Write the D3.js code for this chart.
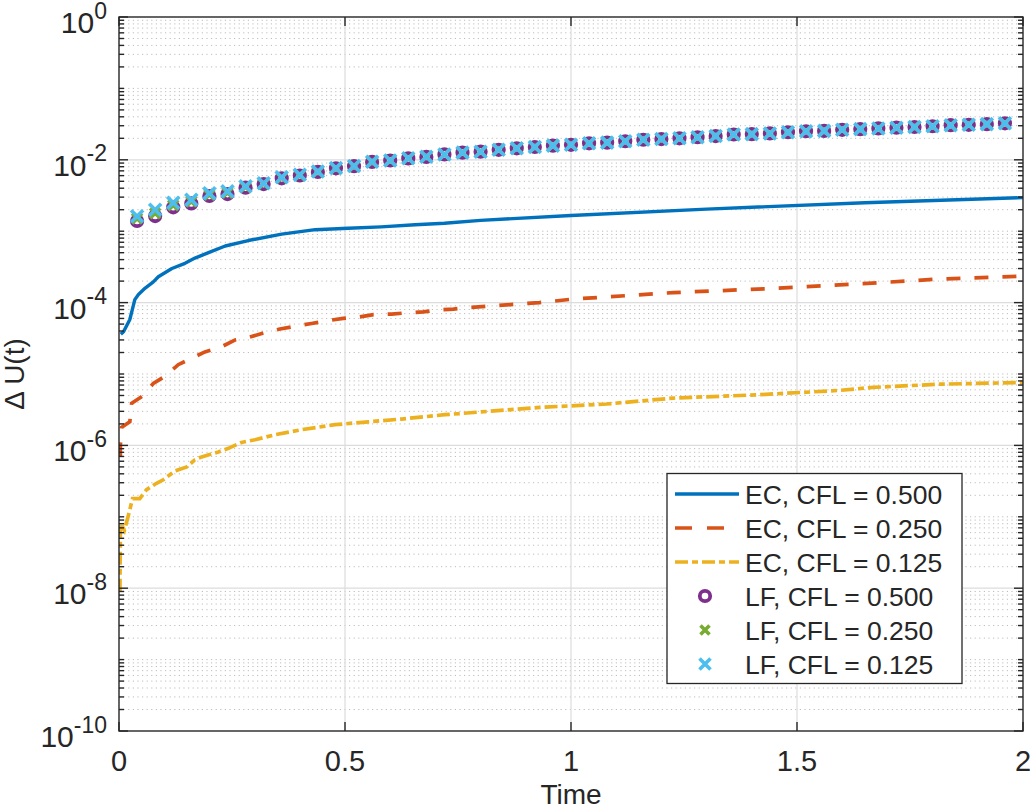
<!DOCTYPE html>
<html><head><meta charset="utf-8">
<script src="https://cdn.jsdelivr.net/npm/d3@7"></script>
<style>
body{margin:0;background:#fff}
text{font-family:"Liberation Sans",Arial,Helvetica,sans-serif;fill:#262626}
</style>
</head><body>
<svg id="c" width="1030" height="809"></svg>
<script>
// ---------- data ----------
const ec050T = [0.004,0.010,0.024,0.035,0.043,0.058,0.076,0.087,0.117,0.146,0.168,0.198,0.235,0.286,0.360,0.434,0.507,0.580,0.655,0.720,0.800,1.000,1.300,1.650,2.000];
const ec050V = [3.6e-5,3.9e-5,5.8e-5,1.1e-4,1.3e-4,1.6e-4,1.95e-4,2.3e-4,3.0e-4,3.55e-4,4.2e-4,5.0e-4,6.2e-4,7.4e-4,9.1e-4,1.05e-3,1.1e-3,1.15e-3,1.23e-3,1.29e-3,1.42e-3,1.66e-3,2.04e-3,2.5e-3,2.95e-3];

const ec025T = [0.003,0.003,0.006,0.024,0.028,0.054,0.076,0.102,0.131,0.157,0.190,0.223,0.257,0.286,0.323,0.356,0.393,0.426,0.463,0.496,0.533,0.563,0.603,0.637,0.673,0.706,0.740,0.770,0.930,1.005,1.226,1.448,1.632,1.816,2.000];
const ec025V = [7.0e-7,1.0e-6,1.8e-6,2.15e-6,3.9e-6,5.0e-6,7.4e-6,9.3e-6,1.35e-5,1.62e-5,2.04e-5,2.34e-5,3.0e-5,3.24e-5,3.8e-5,4.27e-5,4.7e-5,5.1e-5,5.6e-5,6.0e-5,6.3e-5,6.8e-5,6.9e-5,7.2e-5,7.4e-5,7.9e-5,8.1e-5,8.5e-5,1.0e-4,1.12e-4,1.38e-4,1.58e-4,1.82e-4,2.14e-4,2.34e-4];

const ec0125T = [0.002,0.003,0.004,0.012,0.020,0.030,0.046,0.061,0.083,0.098,0.124,0.150,0.168,0.183,0.220,0.242,0.271,0.301,0.345,0.404,0.478,0.552,0.625,0.721,0.930,1.079,1.226,1.410,1.595,1.668,1.816,2.000];
const ec0125V = [8.9e-9,6.0e-8,8.1e-8,6.5e-8,1.0e-7,1.8e-7,1.8e-7,2.4e-7,2.95e-7,3.3e-7,4.4e-7,5.0e-7,6.3e-7,6.9e-7,8.1e-7,9.1e-7,1.1e-6,1.2e-6,1.41e-6,1.66e-6,1.95e-6,2.14e-6,2.34e-6,2.69e-6,3.4e-6,3.8e-6,4.6e-6,5.1e-6,5.9e-6,6.5e-6,7.2e-6,7.6e-6];

const lfT = [0.04,0.08,0.12,0.16,0.20,0.24,0.28,0.32,0.36,0.40,0.44,0.48,0.52,0.56,0.60,0.64,0.68,0.72,0.76,0.80,0.84,0.88,0.92,0.96,1.00,1.04,1.08,1.12,1.16,1.20,1.24,1.28,1.32,1.36,1.40,1.44,1.48,1.52,1.56,1.60,1.64,1.68,1.72,1.76,1.80,1.84,1.88,1.92,1.96];
const lf050V = [1.39e-3,1.63e-3,2.16e-3,2.45e-3,3.11e-3,3.31e-3,4.07e-3,4.57e-3,5.50e-3,6.03e-3,6.76e-3,7.59e-3,8.13e-3,9.33e-3,9.77e-3,1.047e-2,1.096e-2,1.19e-2,1.26e-2,1.30e-2,1.38e-2,1.45e-2,1.51e-2,1.58e-2,1.62e-2,1.70e-2,1.74e-2,1.82e-2,1.91e-2,1.95e-2,2.00e-2,2.07e-2,2.15e-2,2.26e-2,2.29e-2,2.34e-2,2.43e-2,2.51e-2,2.54e-2,2.63e-2,2.69e-2,2.75e-2,2.82e-2,2.88e-2,2.95e-2,3.05e-2,3.09e-2,3.16e-2,3.24e-2];
const lf025V = [1.51e-3,1.78e-3,2.32e-3,2.60e-3,3.24e-3,3.47e-3,4.17e-3,4.62e-3,5.62e-3,6.10e-3,6.80e-3,7.62e-3,8.15e-3,9.35e-3,9.80e-3,1.05e-2,1.10e-2,1.19e-2,1.26e-2,1.30e-2,1.38e-2,1.45e-2,1.51e-2,1.58e-2,1.62e-2,1.70e-2,1.74e-2,1.82e-2,1.91e-2,1.95e-2,2.00e-2,2.07e-2,2.15e-2,2.26e-2,2.29e-2,2.34e-2,2.43e-2,2.51e-2,2.54e-2,2.63e-2,2.69e-2,2.75e-2,2.82e-2,2.88e-2,2.95e-2,3.05e-2,3.09e-2,3.16e-2,3.24e-2];
const lf0125V = [1.62e-3,2.00e-3,2.51e-3,2.75e-3,3.39e-3,3.63e-3,4.27e-3,4.68e-3,5.69e-3,6.17e-3,6.84e-3,7.67e-3,8.20e-3,9.40e-3,9.80e-3,1.05e-2,1.10e-2,1.19e-2,1.26e-2,1.30e-2,1.38e-2,1.45e-2,1.51e-2,1.58e-2,1.62e-2,1.70e-2,1.74e-2,1.82e-2,1.91e-2,1.95e-2,2.00e-2,2.07e-2,2.15e-2,2.26e-2,2.29e-2,2.34e-2,2.43e-2,2.51e-2,2.54e-2,2.63e-2,2.69e-2,2.75e-2,2.82e-2,2.88e-2,2.95e-2,3.05e-2,3.09e-2,3.16e-2,3.24e-2];

const xTicks = [0,0.5,1,1.5,2];
const xTickLabels = ["0","0.5","1","1.5","2"];
const yTickExps = [0,-2,-4,-6,-8,-10];
const legendLabels = ["EC, CFL = 0.500","EC, CFL = 0.250","EC, CFL = 0.125","LF, CFL = 0.500","LF, CFL = 0.250","LF, CFL = 0.125"];
const xLabel = "Time";
const yLabel = "\u0394 U(t)";

// ---------- layout ----------
const L = 119, R = 1023, T = 17, B = 731;
const C = {blue:"#0072BD", red:"#D95319", yellow:"#EDB120", purple:"#7E2F8E", green:"#77AC30", cyan:"#4DBEEE", axis:"#262626"};

const svg = d3.select("#c");
const x = d3.scaleLinear().domain([0,2]).range([L,R]);
const y = d3.scaleLog().domain([1e-10,1]).range([B,T]);

// grid
const minorY = [];
for (let e=-10; e<0; e++) {
  for (let m=2; m<=9; m++) minorY.push(m*Math.pow(10,e));
  if (e % 2 !== 0) minorY.push(Math.pow(10,e));
}
const g = svg.append("g");
g.selectAll(".mg").data(minorY).enter().append("line")
  .attr("x1",L).attr("x2",R).attr("y1",d=>y(d)).attr("y2",d=>y(d))
  .attr("stroke","#bdbdbd").attr("stroke-width",1).attr("stroke-dasharray","1.2,3.4");
g.selectAll(".gy").data(yTickExps.slice(1,-1)).enter().append("line")
  .attr("x1",L).attr("x2",R).attr("y1",d=>y(Math.pow(10,d))).attr("y2",d=>y(Math.pow(10,d)))
  .attr("stroke","#dcdcdc").attr("stroke-width",1.2);
g.selectAll(".gx").data(xTicks.slice(1,-1)).enter().append("line")
  .attr("y1",T).attr("y2",B).attr("x1",d=>x(d)).attr("x2",d=>x(d))
  .attr("stroke","#dcdcdc").attr("stroke-width",1.2);

// clip
svg.append("clipPath").attr("id","clip").append("rect").attr("x",L).attr("y",T).attr("width",R-L).attr("height",B-T);
const plot = svg.append("g").attr("clip-path","url(#clip)");

const line = d3.line().x(d=>x(d[0])).y(d=>y(d[1]));
const zip = (a,b)=>a.map((v,i)=>[v,b[i]]);

plot.append("path").attr("d",line(zip(ec050T,ec050V))).attr("fill","none").attr("stroke",C.blue).attr("stroke-width",3.4).attr("stroke-linejoin","round");
plot.append("path").attr("d",line(zip(ec025T,ec025V))).attr("fill","none").attr("stroke",C.red).attr("stroke-width",3.7).attr("stroke-dasharray","14,14");
plot.append("path").attr("d",line(zip(ec0125T,ec0125V))).attr("fill","none").attr("stroke",C.yellow).attr("stroke-width",3.7).attr("stroke-dasharray","13,4,6,4");

const crossPath = h => `M${-h},${-h}L${h},${h}M${-h},${h}L${h},${-h}`;
plot.selectAll(".c1").data(zip(lfT,lf050V)).enter().append("circle")
  .attr("cx",d=>x(d[0])).attr("cy",d=>y(d[1])).attr("r",5.2).attr("fill","none").attr("stroke",C.purple).attr("stroke-width",3.8);
plot.selectAll(".c2").data(zip(lfT,lf025V)).enter().append("path")
  .attr("transform",d=>`translate(${x(d[0])},${y(d[1])})`).attr("d",crossPath(5)).attr("stroke",C.green).attr("stroke-width",3.6).attr("fill","none");
plot.selectAll(".c3").data(zip(lfT,lf0125V)).enter().append("path")
  .attr("transform",d=>`translate(${x(d[0])},${y(d[1])})`).attr("d",crossPath(6)).attr("stroke",C.cyan).attr("stroke-width",3.6).attr("fill","none");

// axes box & ticks
const ax = svg.append("g").attr("stroke",C.axis).attr("stroke-width",1.4);
ax.append("rect").attr("x",L).attr("y",T).attr("width",R-L).attr("height",B-T).attr("fill","none");
xTicks.forEach(t=>{
  ax.append("line").attr("x1",x(t)).attr("x2",x(t)).attr("y1",B).attr("y2",B-9);
  ax.append("line").attr("x1",x(t)).attr("x2",x(t)).attr("y1",T).attr("y2",T+9);
});
yTickExps.forEach(e=>{
  const yy = y(Math.pow(10,e));
  ax.append("line").attr("x1",L).attr("x2",L+9).attr("y1",yy).attr("y2",yy);
  ax.append("line").attr("x1",R).attr("x2",R-9).attr("y1",yy).attr("y2",yy);
});
minorY.forEach(v=>{
  const yy = y(v);
  ax.append("line").attr("x1",L).attr("x2",L+5).attr("y1",yy).attr("y2",yy);
  ax.append("line").attr("x1",R).attr("x2",R-5).attr("y1",yy).attr("y2",yy);
});

// tick labels
svg.selectAll(".xt").data(xTicks).enter().append("text")
  .attr("x",d=>x(d)).attr("y",771).attr("text-anchor","middle").attr("font-size",29)
  .text((d,i)=>xTickLabels[i]);
const yt = svg.selectAll(".yt").data(yTickExps).enter().append("text")
  .attr("x",L-12).attr("y",d=>y(Math.pow(10,d))+16).attr("text-anchor","end").attr("font-size",30);
yt.append("tspan").text("10");
yt.append("tspan").attr("dy",-14.5).attr("font-size",23).text(d=>String(d));

// axis labels
svg.append("text").attr("x",(L+R)/2).attr("y",804).attr("text-anchor","middle").attr("font-size",28).text(xLabel);
svg.append("text").attr("transform","translate(24,374) rotate(-90)").attr("text-anchor","middle").attr("font-size",28).text(yLabel);

// legend
const lg = svg.append("g");
lg.append("rect").attr("x",667).attr("y",473.5).attr("width",295).attr("height",210).attr("fill","#fff").attr("stroke",C.axis).attr("stroke-width",1.3);
const rowY = i => 494 + 34*i;
const styles = [
  {type:"line",color:C.blue,dash:null},
  {type:"line",color:C.red,dash:"17,15"},
  {type:"line",color:C.yellow,dash:"13,4,6,4"},
  {type:"circle",color:C.purple},
  {type:"cross",color:C.green,h:4.5},
  {type:"cross",color:C.cyan,h:5.5}
];
styles.forEach((s,i)=>{
  const yy = rowY(i);
  if (s.type==="line") {
    const l = lg.append("line").attr("x1",675).attr("x2",739).attr("y1",yy).attr("y2",yy).attr("stroke",s.color).attr("stroke-width",3.7);
    if (s.dash) l.attr("stroke-dasharray",s.dash);
  } else if (s.type==="circle") {
    lg.append("circle").attr("cx",705).attr("cy",yy).attr("r",5.2).attr("fill","none").attr("stroke",s.color).attr("stroke-width",3.8);
  } else {
    lg.append("path").attr("transform",`translate(705,${yy})`).attr("d",crossPath(s.h)).attr("stroke",s.color).attr("stroke-width",3.6).attr("fill","none");
  }
  lg.append("text").attr("x",745).attr("y",yy+9.5).attr("font-size",26.5).text(legendLabels[i]);
});
</script>
</body></html>
